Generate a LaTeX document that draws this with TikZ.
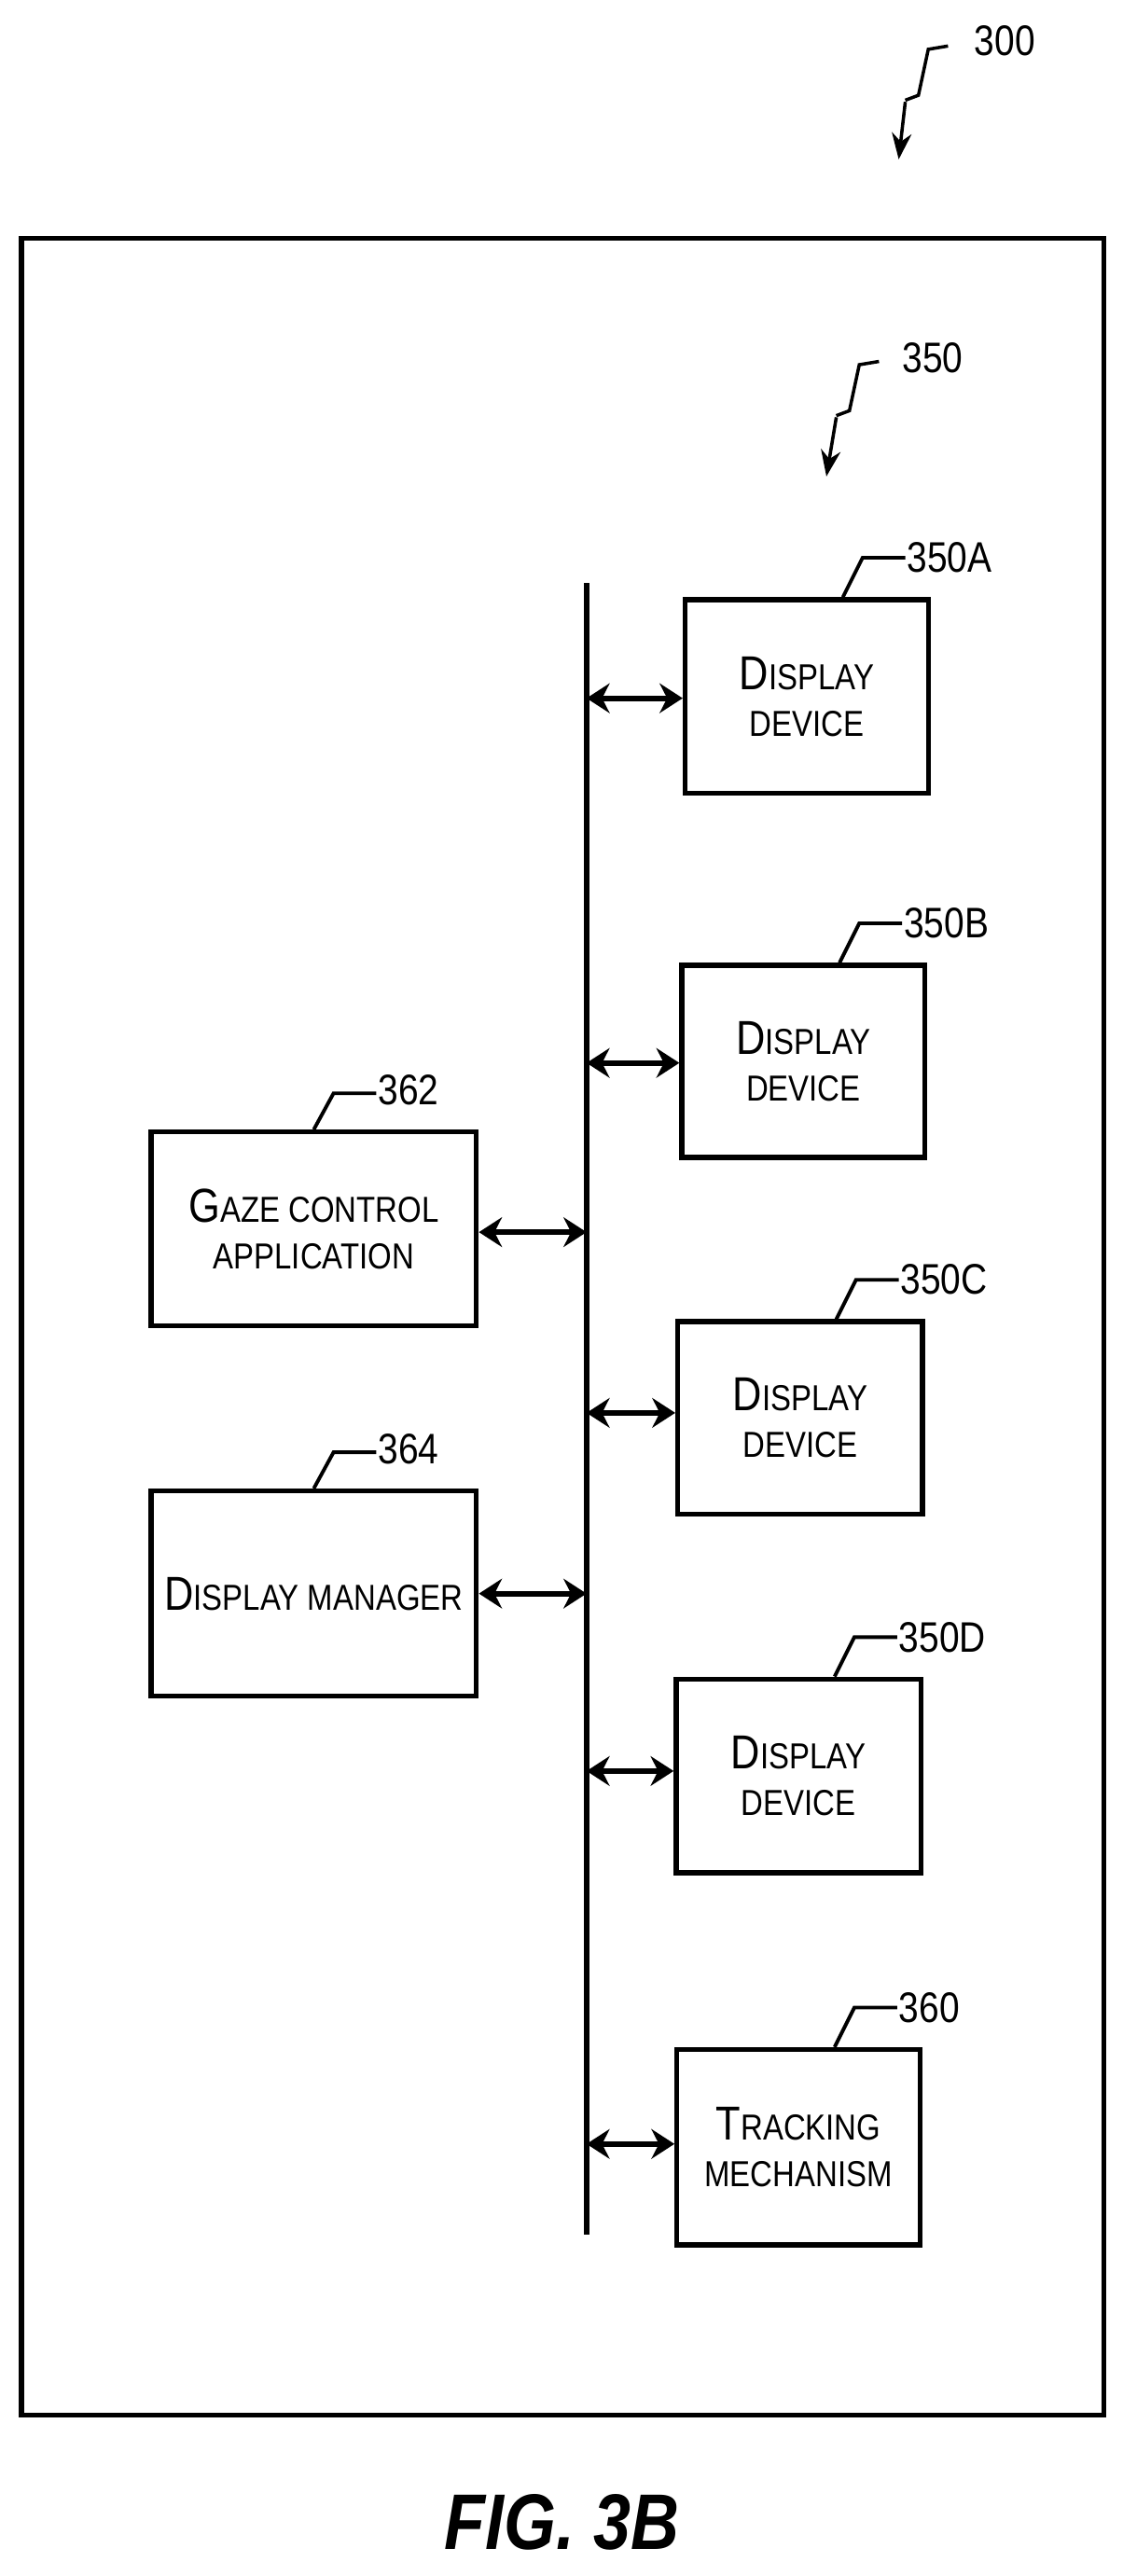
\documentclass[tikz,border=0pt]{standalone}
\usepackage{fontspec}
\setmainfont{Liberation Sans}[FakeStretch=0.85]
\usetikzlibrary{arrows.meta}
\newcommand{\Sc}[2]{{\fontsize{29}{30}\selectfont #1}{\fontsize{22}{24}\selectfont #2}}
\begin{document}
\begin{tikzpicture}[x=1pt,y=-1pt,
 box/.style={draw,line width=3pt,align=center,inner sep=0pt},
 dar/.style={{Stealth[length=14pt,width=18pt]}-{Stealth[length=14pt,width=18pt]},line width=3.5pt},
 lead/.style={line width=2.2pt},
 lab/.style={font=\fontsize{26}{26}\selectfont,anchor=west,inner sep=1pt}]
\useasboundingbox (0,0) rectangle (683,1568);
\draw[line width=3pt] (13,145) rectangle (672,1470);
\draw[line width=3.4pt] (357,355) coordinate (bt) -- (357,1360) coordinate (bb);
\node[box,minimum width=148pt,minimum height=118pt] (a) at (491,424) {\Sc{D}{ISPLAY}\\[12pt]\Sc{}{DEVICE}};
\node[box,minimum width=148pt,minimum height=117pt] (b) at (489,646) {\Sc{D}{ISPLAY}\\[12pt]\Sc{}{DEVICE}};
\node[box,minimum width=149pt,minimum height=117pt] (c) at (487,863) {\Sc{D}{ISPLAY}\\[12pt]\Sc{}{DEVICE}};
\node[box,minimum width=149pt,minimum height=118pt] (d) at (486,1081) {\Sc{D}{ISPLAY}\\[12pt]\Sc{}{DEVICE}};
\node[box,minimum width=148pt,minimum height=119pt] (t) at (486,1307) {\Sc{T}{RACKING}\\[12pt]\Sc{}{MECHANISM}};
\node[box,minimum width=198pt,minimum height=118pt] (g) at (191,748) {\Sc{G}{AZE CONTROL}\\[12pt]\Sc{}{APPLICATION}};
\node[box,minimum width=198pt,minimum height=125pt] (m) at (191,970) {\Sc{D}{ISPLAY MANAGER}};
\foreach \n/\y in {a/425,b/647,c/860,d/1078,t/1305}
  \draw[dar] (357,\y) -- (\n.west |- 0,\y);
\foreach \n/\y in {g/750,m/970}
  \draw[dar] (357,\y) -- (\n.east |- 0,\y);
\foreach \n/\l in {a/350A,b/350B,c/350C,d/350D,t/360}{
  \draw[lead] ([xshift=22pt]\n.north) -- ++(12,-24) -- ++(26,0);
  \node[lab] at ([xshift=60pt,yshift=24pt]\n.north) {\l};}
\foreach \n/\l in {g/362,m/364}{
  \draw[lead] ([xshift=0pt]\n.north) -- ++(12,-22) -- ++(26,0);
  \node[lab] at ([xshift=38pt,yshift=24pt]\n.north) {\l};}
\draw[line width=2pt] (577,28) -- ++(-12,2) -- ++(-6,28) -- ++(-8,3);
\draw[line width=2pt,-{Stealth[length=16pt,width=12pt]}] (551,62) -- (547,97);
\node[lab] at (592,25) {300};
\draw[line width=2pt] (535,220) -- ++(-12,2) -- ++(-6,28) -- ++(-8,3);
\draw[line width=2pt,-{Stealth[length=16pt,width=12pt]}] (509,254) -- (503,290);
\node[lab] at (548,218) {350};
\node[font=\fontsize{48}{48}\selectfont\bfseries\itshape] (fig) at (342,1535) {FIG. 3B};
\end{tikzpicture}
\end{document}
